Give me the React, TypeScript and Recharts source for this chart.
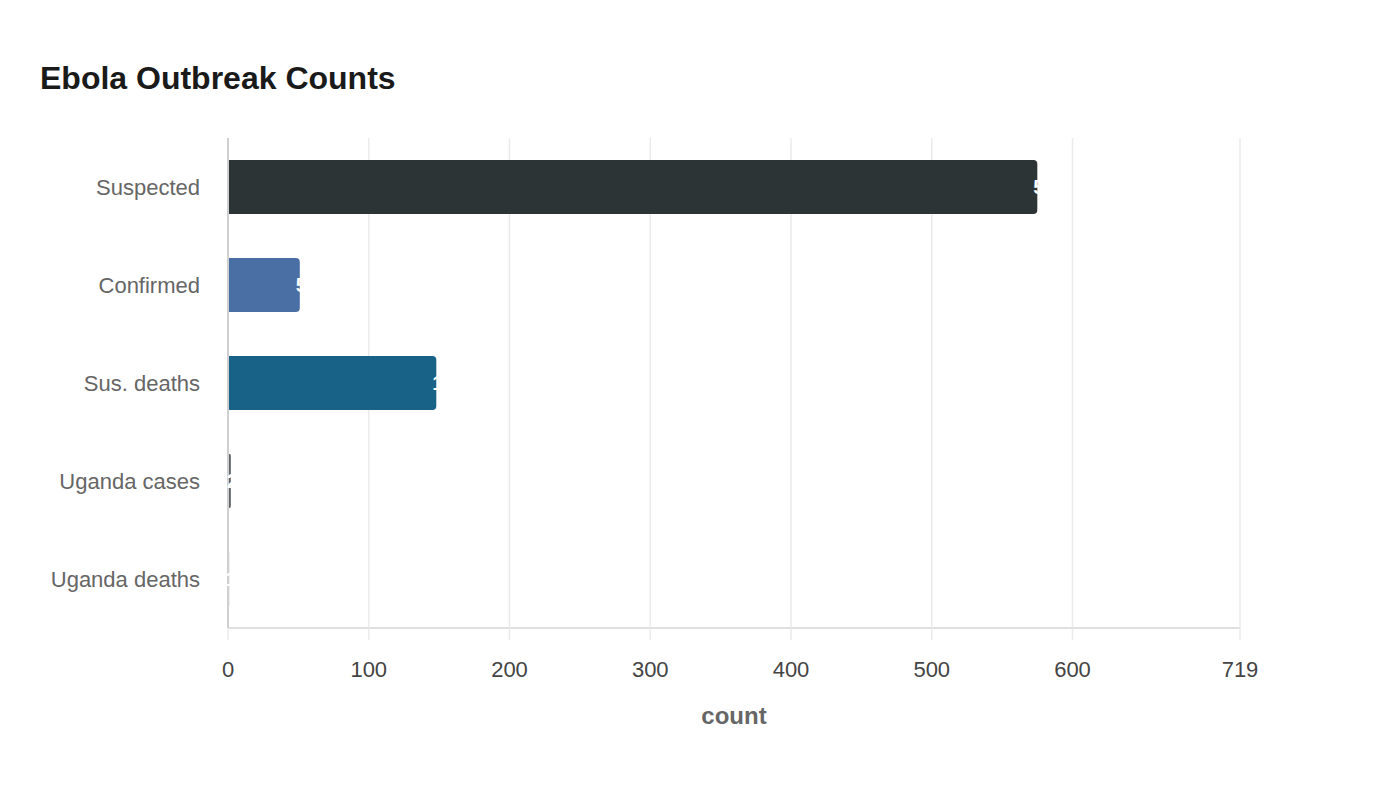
import { BarChart, Bar, XAxis, YAxis, CartesianGrid, Cell, Label, LabelList } from 'recharts';

// Ebola outbreak counts
const categories = ['Suspected', 'Confirmed', 'Sus. deaths', 'Uganda cases', 'Uganda deaths'];
const counts = [575, 51, 148, 2, 1];
const barColors = ['#2d3436', '#4a6fa5', '#186187', '#5f6368', '#d6d6d6'];
const xTicks = [0, 100, 200, 300, 400, 500, 600, 719];

const data = categories.map((name, i) => ({ name, count: counts[i] }));

const font = '"Liberation Sans", Arial, sans-serif';

// value label sits at the bar end in white (mostly lost against the background)
const EndLabel = (props: any) => {
  const { x, y, width, height, value } = props;
  return (
    <text
      x={x + width - 4}
      y={y + height / 2}
      dy="0.35em"
      textAnchor="start"
      fill="#ffffff"
      fontSize={20}
      fontWeight="bold"
      fontFamily={font}
    >
      {value}
    </text>
  );
};

export default function App() {
  return (
    <div style={{ position: 'relative', width: 1400, height: 800, background: '#fff', fontFamily: font }}>
      <style>{`body{margin:0}`}</style>
      <div
        style={{
          position: 'absolute',
          left: 40,
          top: 60,
          fontSize: 32,
          fontWeight: 'bold',
          color: '#1a1a1a',
          lineHeight: '36px',
        }}
      >
        Ebola Outbreak Counts
      </div>
      <div style={{ position: 'absolute', left: 0, top: 0 }}>
        <BarChart
          width={1400}
          height={800}
          data={data}
          layout="vertical"
          margin={{ top: 138, right: 160, bottom: 72, left: 128 }}
        >
          <CartesianGrid horizontal={false} stroke="#ebebeb" strokeWidth={1.5} />
          <XAxis
            type="number"
            dataKey="count"
            domain={[0, 719]}
            ticks={xTicks}
            interval={0}
            height={100}
            tickSize={12}
            tickMargin={21}
            axisLine={{ stroke: '#e0e0e0', strokeWidth: 2 }}
            tickLine={{ stroke: '#ebebeb', strokeWidth: 1.5 }}
            tick={{ fill: '#444', fontSize: 22, fontFamily: font }}
          >
            <Label
              value="count"
              position="insideBottom"
              offset={4}
              style={{ fill: '#666', fontSize: 24, fontWeight: 'bold', fontFamily: font }}
            />
          </XAxis>
          <YAxis
            type="category"
            dataKey="name"
            width={100}
            tickSize={0}
            tickMargin={28}
            axisLine={{ stroke: '#d0d0d0', strokeWidth: 2 }}
            tickLine={false}
            tick={{ fill: '#666', fontSize: 22, fontFamily: font }}
          />
          <Bar dataKey="count" barSize={54} radius={[0, 4, 4, 0]} isAnimationActive={false}>
            {data.map((d, i) => (
              <Cell key={d.name} fill={barColors[i]} />
            ))}
            <LabelList dataKey="count" content={EndLabel} />
          </Bar>
        </BarChart>
      </div>
    </div>
  );
}
